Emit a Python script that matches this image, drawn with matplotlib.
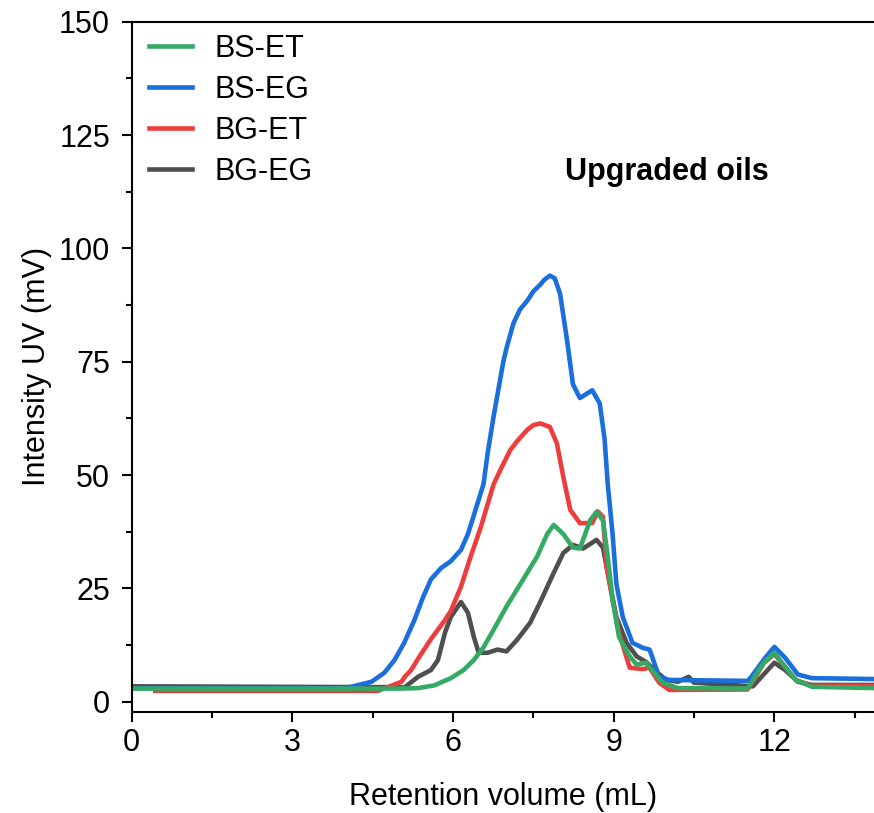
import matplotlib
matplotlib.use("Agg")
import matplotlib.pyplot as plt
from matplotlib.ticker import MultipleLocator

plt.rcParams['font.family'] = ['Liberation Sans', 'DejaVu Sans']

# GPC traces (retention volume in mL, intensity in mV)
bs_eg_x = [0, 4.0, 4.24, 4.48, 4.72, 4.91, 5.09, 5.28, 5.44, 5.59, 5.78, 5.96, 6.15, 6.28, 6.4,
           6.57, 6.65, 6.76, 6.85, 6.94, 7.0, 7.13, 7.25, 7.39, 7.5, 7.63, 7.7, 7.81, 7.9, 8.0,
           8.13, 8.24, 8.37, 8.6, 8.74, 8.83, 8.89, 8.98, 9.05, 9.17, 9.35, 9.54, 9.67, 9.85,
           10.04, 11.5, 11.57, 11.83, 12.0, 12.2, 12.44, 12.7, 13.9]
bs_eg_y = [3, 3, 3.7, 4.4, 6.4, 9.2, 13, 18, 23, 27, 29.5, 31, 33.5, 37, 41.5,
           48, 55, 63, 69, 75, 78, 83.5, 86.5, 88.5, 90.5, 92, 93, 94, 93.4, 90,
           79.7, 70, 67, 68.7, 65.8, 58, 48, 37, 26, 18.7, 13, 11.9, 11.5, 5.5,
           4.8, 4.6, 5.5, 9.7, 12.1, 9.7, 6, 5.2, 5.0]

bg_et_x = [0.44, 4.6, 4.8, 5.04, 5.1, 5.22, 5.35, 5.46, 5.6, 5.72, 5.85, 5.96, 6.15, 6.33, 6.52,
           6.76, 6.9, 7.07, 7.2, 7.39, 7.5, 7.63, 7.81, 7.94, 8.06, 8.19, 8.37, 8.6, 8.7, 8.8,
           8.87, 8.98, 9.1, 9.3, 9.54, 9.67, 9.85, 10.04, 11.5, 11.6, 11.8, 12.0, 12.2, 12.4,
           12.7, 13.9]
bg_et_y = [2.4, 2.4, 3.3, 4.4, 5.5, 7, 9.5, 11.5, 14, 15.9, 18, 20, 25.4, 32, 38.5,
           48, 51.5, 55.5, 57.5, 60, 61, 61.4, 60.6, 57, 49.6, 42.3, 39.4, 39.4, 42, 40.8,
           29.7, 22.5, 15.2, 7.5, 7.2, 7.5, 4.2, 2.6, 2.7, 4.5, 8.5, 10.5, 7.7, 4.8,
           3.5, 3.5]

bs_et_x = [0, 5.0, 5.35, 5.65, 5.96, 6.2, 6.39, 6.57, 6.76, 7.0, 7.26, 7.57, 7.76, 7.88, 8.06,
           8.24, 8.37, 8.56, 8.68, 8.8, 8.89, 8.98, 9.1, 9.3, 9.43, 9.6, 9.72, 9.91, 10.2, 11.5,
           11.6, 11.8, 12.0, 12.2, 12.4, 12.7, 13.9]
bs_et_y = [2.9, 2.9, 3.0, 3.6, 5.2, 7, 9.2, 12, 15.9, 21, 26, 32, 37, 39, 37,
           34, 33.8, 40, 41.9, 40, 32, 22.5, 14.3, 10, 8.2, 8.6, 7, 4.2, 3.0, 2.9,
           4.8, 8.6, 10.8, 7.7, 4.8, 3.3, 3.0]

bg_eg_x = [0, 5.0, 5.09, 5.35, 5.59, 5.72, 5.85, 5.96, 6.15, 6.28, 6.39, 6.48, 6.65, 6.83, 7.0,
           7.2, 7.44, 7.63, 7.88, 8.06, 8.24, 8.43, 8.68, 8.8, 8.93, 9.05, 9.24, 9.43, 9.6, 9.8,
           9.98, 10.2, 10.4, 10.5, 11.6, 11.83, 12.0, 12.2, 12.44, 12.7, 13.9]
bg_eg_y = [3.4, 3.2, 3.1, 5.5, 7, 9.2, 15.2, 18.7, 22, 19.6, 14.3, 10.8, 10.8, 11.5, 11.1,
           13.7, 17.4, 22, 28.4, 32.8, 34.6, 33.8, 35.7, 34, 26, 18.7, 13, 10, 8.8, 6.6,
           4.8, 4.4, 5.5, 4.2, 3.4, 6.4, 8.6, 7, 4.4, 3.7, 3.7]

fig = plt.figure(figsize=(8.74, 8.13), dpi=100)
ax = fig.add_axes([0.1505, 0.1246, 0.8495, 0.8487])

lw = 3.3
l_eg2, = ax.plot(bg_eg_x, bg_eg_y, color='#4f4f4f', lw=lw, label='BG-EG')
l_et2, = ax.plot(bg_et_x, bg_et_y, color='#ee3d3d', lw=lw, label='BG-ET')
l_eg1, = ax.plot(bs_eg_x, bs_eg_y, color='#1a6ede', lw=lw, label='BS-EG')
l_et1, = ax.plot(bs_et_x, bs_et_y, color='#35aa64', lw=lw, label='BS-ET')

ax.set_xlim(0, 13.86)
ax.set_ylim(-2.2, 150)
ax.xaxis.set_major_locator(MultipleLocator(3))
ax.xaxis.set_minor_locator(MultipleLocator(1.5))
ax.yaxis.set_major_locator(MultipleLocator(25))
ax.yaxis.set_minor_locator(MultipleLocator(12.5))

ax.spines['right'].set_visible(False)
for s in ['left', 'bottom', 'top']:
    ax.spines[s].set_linewidth(1.5)
ax.tick_params(which='major', direction='out', length=7, width=1.5, labelsize=22)
ax.tick_params(which='minor', direction='out', length=4, width=1.5)
ax.tick_params(axis='x', which='major', pad=5)
ax.tick_params(axis='y', which='major', pad=8.5)
ax.tick_params(top=False, right=False, which='both')

ax.set_xlabel('Retention volume (mL)', fontsize=22, labelpad=17)
ax.set_ylabel('Intensity UV (mV)', fontsize=22, labelpad=5)

ax.text(8.1, 115.1, 'Upgraded oils', fontsize=22, fontweight='bold', va='baseline', ha='left')

ax.legend(handles=[l_et1, l_eg1, l_et2, l_eg2], loc='upper left', bbox_to_anchor=(0.0236, 0.982),
          frameon=False, fontsize=22, borderaxespad=0, borderpad=0, handlelength=1.4,
          handletextpad=0.75, labelspacing=0.36)

fig.savefig('out.png', dpi=100)
